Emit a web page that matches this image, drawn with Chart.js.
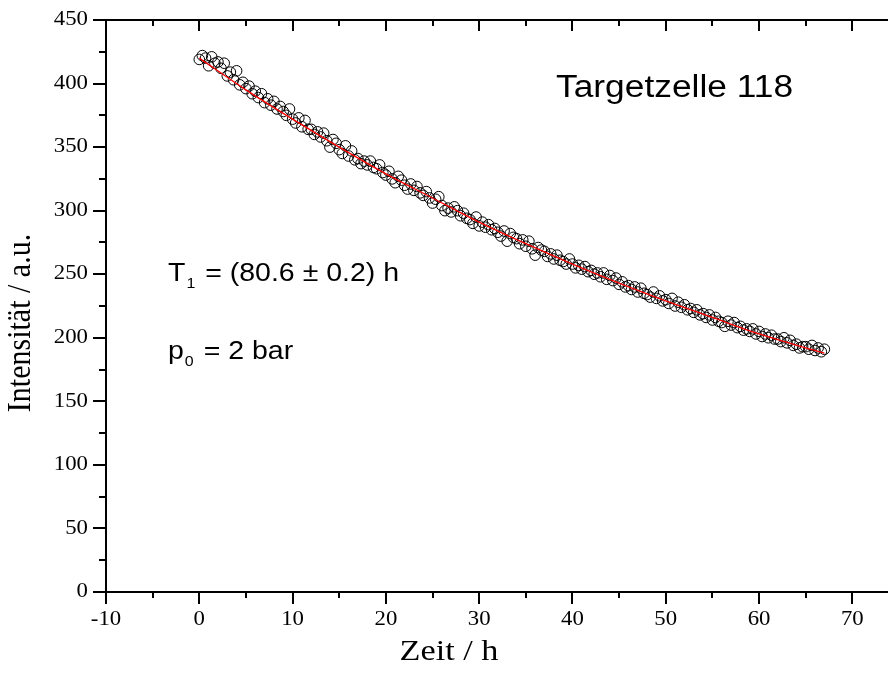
<!DOCTYPE html>
<html>
<head>
<meta charset="utf-8">
<script src="https://cdn.jsdelivr.net/npm/chart.js@4.4.1/dist/chart.umd.min.js"></script>
<style>
  html, body { margin: 0; padding: 0; background: #fff; overflow: hidden; }
  #wrap { width: 920px; height: 677px; }
</style>
</head>
<body>
<div id="wrap"><canvas id="t1Chart" width="920" height="677"></canvas></div>
<script>
// Messzeiten (h) und Intensitaeten (a.u.)
const zeit = [
  0, 0.33, 0.67, 1, 1.33, 1.67, 2, 2.33, 2.67, 3, 3.33, 3.67, 4, 4.33, 4.67,
  5, 5.33, 5.67, 6, 6.33, 6.67, 7, 7.33, 7.67, 8, 8.33, 8.67, 9, 9.33, 9.67,
  10, 10.33, 10.67, 11, 11.33, 11.67, 12, 12.33, 12.67, 13, 13.33, 13.67, 14, 14.33, 14.67,
  15, 15.33, 15.67, 16, 16.33, 16.67, 17, 17.33, 17.67, 18, 18.33, 18.67, 19, 19.33, 19.67,
  20, 20.33, 20.67, 21, 21.33, 21.67, 22, 22.33, 22.67, 23, 23.33, 23.67, 24, 24.33, 24.67,
  25, 25.33, 25.67, 26, 26.33, 26.67, 27, 27.33, 27.67, 28, 28.33, 28.67, 29, 29.33, 29.67,
  30, 30.33, 30.67, 31, 31.33, 31.67, 32, 32.33, 32.67, 33, 33.33, 33.67, 34, 34.33, 34.67,
  35, 35.33, 35.67, 36, 36.33, 36.67, 37, 37.33, 37.67, 38, 38.33, 38.67, 39, 39.33, 39.67,
  40, 40.33, 40.67, 41, 41.33, 41.67, 42, 42.33, 42.67, 43, 43.33, 43.67, 44, 44.33, 44.67,
  45, 45.33, 45.67, 46, 46.33, 46.67, 47, 47.33, 47.67, 48, 48.33, 48.67, 49, 49.33, 49.67,
  50, 50.33, 50.67, 51, 51.33, 51.67, 52, 52.33, 52.67, 53, 53.33, 53.67, 54, 54.33, 54.67,
  55, 55.33, 55.67, 56, 56.33, 56.67, 57, 57.33, 57.67, 58, 58.33, 58.67, 59, 59.33, 59.67,
  60, 60.33, 60.67, 61, 61.33, 61.67, 62, 62.33, 62.67, 63, 63.33, 63.67, 64, 64.33, 64.67,
  65, 65.33, 65.67, 66, 66.33, 66.67, 67
];
const intensitaet = [
  419, 422, 420, 414, 421, 416, 417, 412, 416, 406, 409, 403, 410, 399, 401,
  396, 398, 392, 394, 389, 392, 385, 388, 383, 386, 380, 382, 378, 375, 380,
  372, 369, 373, 366, 371, 364, 364, 360, 362, 358, 361, 355, 350, 356, 353,
  348, 345, 351, 343, 347, 340, 341, 337, 339, 336, 339, 334, 333, 336, 330,
  328, 331, 325, 322, 327, 324, 320, 317, 321, 316, 319, 314, 312, 315, 310,
  306, 309, 311, 304, 300, 302, 299, 303, 300, 296, 298, 294, 293, 290, 295,
  288, 291, 287, 289, 285, 286, 283, 280, 284, 276, 282, 279, 278, 274, 277,
  272, 276, 270, 265, 271, 269, 268, 264, 266, 262, 265, 261, 260, 258, 262,
  258, 255, 257, 254, 256, 252, 253, 250, 251, 248, 251, 246, 249, 245, 247,
  242, 244, 240, 241, 238, 240, 236, 239, 235, 234, 232, 236, 231, 233, 229,
  230, 227, 231, 225, 228, 224, 226, 222, 223, 220, 222, 218, 219, 216, 218,
  214, 216, 213, 212, 209, 213, 210, 212, 208, 209, 206, 207, 205, 207, 203,
  205, 201, 203, 200, 202, 199, 199, 197, 200, 196, 198, 194, 195, 192, 193,
  193, 191, 194, 190, 192, 189, 191
];

// Fitkurve (rot), Stuetzstellen
const fitZeit = [0, 5, 10, 15, 20, 25, 30, 35, 40, 45, 50, 55, 60, 65, 67];
const fitWert = [420, 395, 372, 350, 329, 310, 291, 274, 258, 243, 229, 216, 203, 192, 188];

const xTicks = [-10, 0, 10, 20, 30, 40, 50, 60, 70];
const yTicks = [0, 50, 100, 150, 200, 250, 300, 350, 400, 450];

const serif = '"Liberation Serif", "Times New Roman", serif';
const sans = '"Liberation Sans", Arial, sans-serif';
const dehnung = 1.14; // Schrift in der Vorlage ist etwas in die Breite gezogen

const messPunkte = zeit.map((t, i) => ({ x: t, y: intensitaet[i] }));
const fitPunkte = fitZeit.map((t, i) => ({ x: t, y: fitWert[i] }));

function text(ctx, str, x, y, font, align, base) {
    ctx.save();
    ctx.font = font;
    ctx.textAlign = align;
    ctx.textBaseline = base;
    ctx.translate(x, y);
    ctx.scale(dehnung, 1);
    ctx.fillText(str, 0, 0);
    ctx.restore();
    ctx.font = font;
    return ctx.measureText(str).width * dehnung;
}

function textMitIndex(ctx, haupt, index, rest, x, y) {
    const gross = '25px ' + sans;
    const klein = '14px ' + sans;
    x += text(ctx, haupt, x, y, gross, 'left', 'alphabetic');
    x += text(ctx, index, x + 1, y + 7, klein, 'left', 'alphabetic') + 3;
    text(ctx, rest, x, y, gross, 'left', 'alphabetic');
}

// Rahmen, Haupt- und Nebenstriche, Achsentitel und Beschriftungen
const rahmenPlugin = {
    id: 'rahmen',
    afterDraw(chart) {
        const ctx = chart.ctx;
        const a = chart.chartArea;
        const xs = chart.scales.x;
        const ys = chart.scales.y;
        ctx.save();
        ctx.strokeStyle = '#000';
        ctx.fillStyle = '#000';
        ctx.lineWidth = 2;
        ctx.strokeRect(a.left, a.top, a.right - a.left, a.bottom - a.top);

        ctx.beginPath();
        for (let v = -10; v <= 75; v += 5) {
            const px = Math.round(xs.getPixelForValue(v));
            const major = v % 10 === 0;
            ctx.moveTo(px, a.bottom);
            ctx.lineTo(px, a.bottom + (major ? 12 : 6));
            ctx.moveTo(px, a.top);
            ctx.lineTo(px, a.top + (major ? 11 : 6));
        }
        for (let v = 0; v <= 450; v += 25) {
            const py = Math.round(ys.getPixelForValue(v));
            const major = v % 50 === 0;
            ctx.moveTo(a.left, py);
            ctx.lineTo(a.left - (major ? 13 : 7), py);
            ctx.moveTo(a.right, py);
            ctx.lineTo(a.right - (major ? 11 : 6), py);
        }
        ctx.stroke();

        const tickFont = '20px ' + serif;
        xTicks.forEach(v => {
            text(ctx, String(v), xs.getPixelForValue(v), 620, tickFont, 'center', 'middle');
        });
        yTicks.forEach(v => {
            text(ctx, String(v), 88, ys.getPixelForValue(v), tickFont, 'right', 'middle');
        });

        text(ctx, 'Zeit / h', 449, 652, '30px ' + serif, 'center', 'middle');
        ctx.save();
        ctx.translate(21, 323);
        ctx.scale(dehnung, 1);
        ctx.rotate(-Math.PI / 2);
        ctx.font = '30px ' + serif;
        ctx.textAlign = 'center';
        ctx.textBaseline = 'middle';
        ctx.fillText('Intensität / a.u.', 0, 0);
        ctx.restore();

        text(ctx, 'Targetzelle 118', 556, 97, '31px ' + sans, 'left', 'alphabetic');
        textMitIndex(ctx, 'T', '1', ' = (80.6 ± 0.2) h', 168, 281);
        textMitIndex(ctx, 'p', '0', ' = 2 bar', 168, 359);
        ctx.restore();
    }
};

new Chart(document.getElementById('t1Chart'), {
    type: 'scatter',
    data: {
        datasets: [
            {
                label: 'Fit',
                type: 'line',
                data: fitPunkte,
                borderColor: '#ff0000',
                borderWidth: 1.3,
                pointRadius: 0,
                fill: false,
                cubicInterpolationMode: 'monotone'
            },
            {
                label: 'Messung',
                data: messPunkte,
                showLine: false,
                pointStyle: 'circle',
                pointRadius: 5.3,
                pointBorderWidth: 1,
                pointBorderColor: '#000',
                pointBackgroundColor: 'rgba(255,255,255,0)'
            }
        ]
    },
    options: {
        responsive: false,
        animation: false,
        devicePixelRatio: 1,
        layout: { padding: { top: 20, right: 21, left: 0, bottom: 0 } },
        plugins: {
            legend: { display: false },
            tooltip: { enabled: false }
        },
        scales: {
            x: {
                type: 'linear',
                min: -10,
                max: 75,
                afterFit(scale) {
                    scale.height = 85;
                    scale.paddingLeft = 0;
                    scale.paddingRight = 0;
                },
                afterBuildTicks(scale) { scale.ticks = xTicks.map(v => ({ value: v })); },
                grid: { display: false, drawTicks: false, tickLength: 0 },
                border: { display: false },
                ticks: { display: false }
            },
            y: {
                type: 'linear',
                min: 0,
                max: 450,
                afterFit(scale) {
                    scale.width = 106;
                    scale.paddingTop = 0;
                    scale.paddingBottom = 0;
                },
                afterBuildTicks(scale) { scale.ticks = yTicks.map(v => ({ value: v })); },
                grid: { display: false, drawTicks: false, tickLength: 0 },
                border: { display: false },
                ticks: { display: false }
            }
        }
    },
    plugins: [rahmenPlugin]
});
</script>
</body>
</html>
